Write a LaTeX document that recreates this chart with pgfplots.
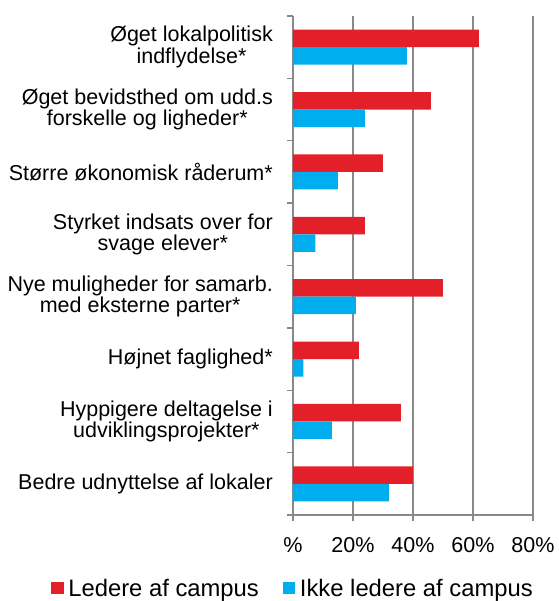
\documentclass[border=0pt]{standalone}
\usepackage{pgfplots}
\pgfplotsset{compat=1.18}
\usepackage{fontspec}
\setmainfont{Liberation Sans}
\definecolor{redC}{HTML}{E3202A}
\definecolor{blueC}{HTML}{00AEEF}
\definecolor{gridC}{HTML}{898989}
\begin{document}
\begin{tikzpicture}
\begin{axis}[
  name=ax,
  scale only axis,
  width=240pt, height=499pt,
  xmin=0, xmax=80,
  ymin=0.5, ymax=8.5,
  axis lines*=left,
  axis line style={gridC, line width=1.3pt},
  xtick={0,20,40,60,80},
  xticklabels={\%,20\%,40\%,60\%,80\%},
  xmajorgrids,
  grid style={gridC, line width=1.3pt},
  tick align=outside,
  major tick length=6pt,
  tick style={gridC, line width=1.3pt},
  ytick={0.5,1.5,...,8.5},
  yticklabels={},
  extra y ticks={1,2,3,4,5,6,7,8},
  extra y tick labels={
    Bedre udnyttelse af lokaler,
    {Hyppigere deltagelse i\\udviklingsprojekter*},
    Højnet faglighed*,
    {Nye muligheder for samarb.\\med eksterne parter*},
    {Styrket indsats over for\\svage elever*},
    Større økonomisk råderum*,
    {Øget bevidsthed om udd.s\\forskelle og ligheder*},
    {Øget lokalpolitisk\\indflydelse*}},
  extra y tick style={major tick length=0pt, grid=none},
  tick label style={font=\fontsize{21.5}{21.5}\selectfont, text=black},
  yticklabel style={align=center, inner sep=0pt, xshift=-20pt},
  xticklabel style={inner sep=0pt, yshift=-16pt},
  legend columns=2,
  legend style={at={(axis description cs:-0.004,-0.148)}, anchor=center,
    draw=none, fill=none, inner sep=0pt,
    nodes={inner sep=0pt},
    font=\fontsize{23.8}{23.8}\selectfont,
    /tikz/every odd column/.append style={column sep=4.6pt},
    /tikz/every even column/.append style={column sep=24pt}},
  legend image code/.code={\path[#1,draw=none] (0pt,-5.5pt) rectangle (12.5pt,7pt);},
]
\addplot[xbar, bar width=17.5pt, bar shift=8.75pt, fill=redC, draw=none]
  coordinates {(40,1) (36,2) (22,3) (50,4) (24,5) (30,6) (46,7) (62,8)};
\addplot[xbar, bar width=17.5pt, bar shift=-8.75pt, fill=blueC, draw=none]
  coordinates {(32,1) (13,2) (3.5,3) (21,4) (7.5,5) (15,6) (24,7) (38,8)};
\legend{Ledere af campus, Ikke ledere af campus}
\end{axis}
\pgfresetboundingbox
\path[use as bounding box] (ax.south west) ++(-293pt,-86pt) rectangle ++(558pt,601pt);
\end{tikzpicture}
\end{document}
